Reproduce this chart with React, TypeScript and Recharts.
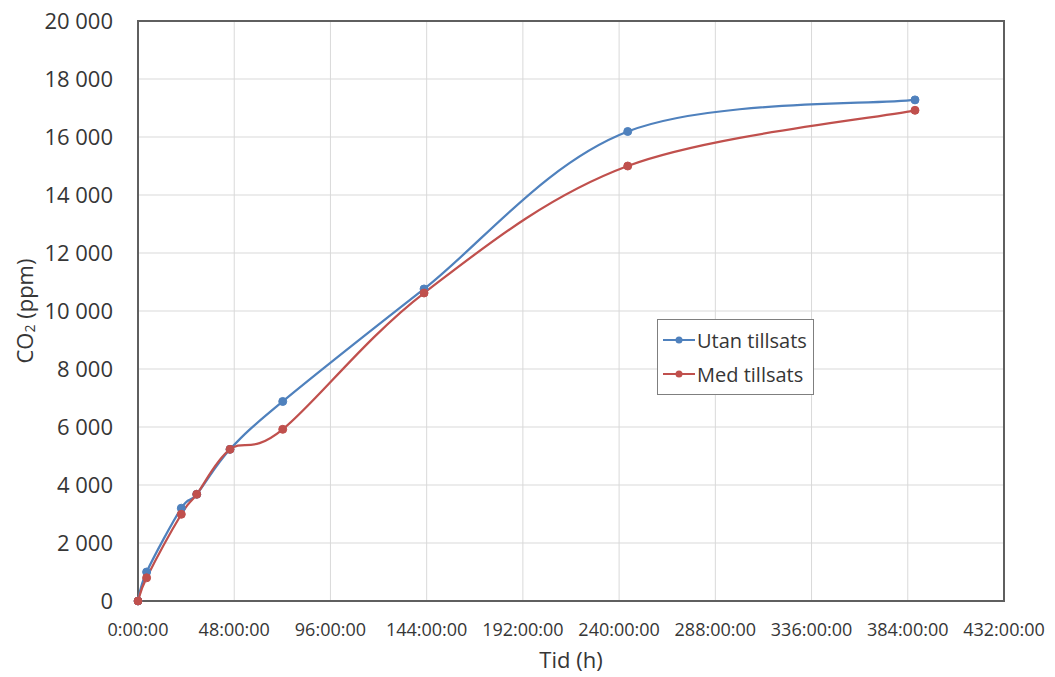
import React from 'react';
import {
  LineChart,
  Line,
  XAxis,
  YAxis,
  CartesianGrid,
  Legend,
  ReferenceArea
} from 'recharts';

// Sampling times (hours) shared by both series
const hours = [0, 4.3, 21.6, 29.3, 45.9, 72.2, 142.7, 244.3, 387.6];
// CO2 concentration without additive (ppm)
const utanTillsats = [0, 1000, 3200, 3680, 5230, 6880, 10760, 16190, 17280];
// CO2 concentration with additive (ppm)
const medTillsats = [0, 800, 2990, 3680, 5230, 5920, 10620, 15000, 16920];

const seriesOrder = ['utan', 'med'];

const xTicks = [0, 48, 96, 144, 192, 240, 288, 336, 384, 432];
const yTicks = [0, 2000, 4000, 6000, 8000, 10000, 12000, 14000, 16000, 18000, 20000];

const BLUE = '#4f81bd';
const RED = '#c0504d';
const TEXT = '#363636';
const FONT = '"Open Sans", "Liberation Sans", sans-serif';

const chartData = hours.map((h, i) => ({
  h,
  utan: utanTillsats[i],
  med: medTillsats[i]
}));

// Smoothed line like a spreadsheet "smooth line": Catmull-Rom segments as cubic Beziers
const smoothCurve = (context: any) => {
  let pts: [number, number][] = [];
  return {
    areaStart() {},
    areaEnd() {},
    lineStart() {
      pts = [];
    },
    point(x: number, y: number) {
      pts.push([+x, +y]);
    },
    lineEnd() {
      if (!pts.length) return;
      context.moveTo(pts[0][0], pts[0][1]);
      for (let i = 0; i < pts.length - 1; i++) {
        const p0 = pts[Math.max(i - 1, 0)];
        const p1 = pts[i];
        const p2 = pts[i + 1];
        const p3 = pts[Math.min(i + 2, pts.length - 1)];
        context.bezierCurveTo(
          p1[0] + (p2[0] - p0[0]) / 6,
          p1[1] + (p2[1] - p0[1]) / 6,
          p2[0] - (p3[0] - p1[0]) / 6,
          p2[1] - (p3[1] - p1[1]) / 6,
          p2[0],
          p2[1]
        );
      }
    }
  };
};

const formatThousands = (v: number) =>
  String(v).replace(/\B(?=(\d{3})+(?!\d))/g, ' ');

const formatHours = (v: number) => `${v}:00:00`;

const YTitle = (props: any) => {
  const { viewBox } = props;
  const cx = viewBox.x + 24;
  const cy = viewBox.y + viewBox.height / 2;
  return (
    <text
      x={cx}
      y={cy}
      transform={`rotate(-90, ${cx}, ${cy})`}
      textAnchor="middle"
      dominantBaseline="central"
      fill={TEXT}
      fontFamily={FONT}
      fontSize={22}
    >
      CO
      <tspan fontSize={14} dy={5}>2</tspan>
      <tspan dy={-5}> (ppm)</tspan>
    </text>
  );
};

const LegendBox = (props: any) => {
  const { payload = [] } = props;
  const items = [...payload].sort(
    (a: any, b: any) => seriesOrder.indexOf(a.dataKey) - seriesOrder.indexOf(b.dataKey)
  );
  return (
    <div
      style={{
        border: '1.5px solid #7f7f7f',
        background: '#fff',
        padding: '3px 6px 3px 5px',
        fontFamily: FONT,
        fontSize: 20,
        color: TEXT
      }}
    >
      {items.map((entry: any) => (
        <div key={entry.value} style={{ display: 'flex', alignItems: 'center', height: 34 }}>
          <svg width={32} height={12} style={{ marginRight: 2 }}>
            <line x1={0} y1={6} x2={32} y2={6} stroke={entry.color} strokeWidth={2} />
            <circle cx={16} cy={6} r={3.5} fill={entry.color} />
          </svg>
          <span>{entry.value}</span>
        </div>
      ))}
    </div>
  );
};

export default function App() {
  return (
    <div style={{ position: 'absolute', left: 0, top: 0, width: 1055, height: 677, background: '#fff' }}>
      <LineChart
        width={1055}
        height={677}
        data={chartData}
        margin={{ top: 21, right: 51, bottom: 0, left: 0 }}
      >
        <CartesianGrid stroke="#d9d9d9" strokeWidth={1} />
        <XAxis
          dataKey="h"
          type="number"
          domain={[0, 432]}
          ticks={xTicks}
          tickFormatter={formatHours}
          height={76}
          axisLine={false}
          tickLine={false}
          tickSize={0}
          tickMargin={22}
          tick={{ fill: TEXT, fontSize: 18, fontFamily: FONT }}
          interval={0}
          label={{
            value: 'Tid (h)',
            position: 'insideBottom',
            offset: 9,
            fill: TEXT,
            fontSize: 22,
            fontFamily: FONT
          }}
        />
        <YAxis
          type="number"
          domain={[0, 20000]}
          ticks={yTicks}
          tickFormatter={formatThousands}
          width={138}
          axisLine={false}
          tickLine={false}
          tickSize={0}
          tickMargin={25}
          tick={{ fill: TEXT, fontSize: 22, fontFamily: FONT }}
          interval={0}
          label={<YTitle />}
        />
        <ReferenceArea
          x1={0}
          x2={432}
          y1={0}
          y2={20000}
          fill="none"
          stroke="#5f5f5f"
          strokeWidth={2}
          ifOverflow="visible"
        />
        <Legend
          layout="vertical"
          align="center"
          verticalAlign="middle"
          wrapperStyle={{ left: 657, top: 319, width: 157 }}
          content={<LegendBox />}
        />
        <Line
          name="Utan tillsats"
          dataKey="utan"
          type={smoothCurve as any}
          stroke={BLUE}
          strokeWidth={2.25}
          dot={{ r: 4, fill: BLUE, stroke: BLUE, strokeWidth: 1 }}
          activeDot={false}
          isAnimationActive={false}
        />
        <Line
          name="Med tillsats"
          dataKey="med"
          type={smoothCurve as any}
          stroke={RED}
          strokeWidth={2.25}
          dot={{ r: 4, fill: RED, stroke: RED, strokeWidth: 1 }}
          activeDot={false}
          isAnimationActive={false}
        />
      </LineChart>
    </div>
  );
}
